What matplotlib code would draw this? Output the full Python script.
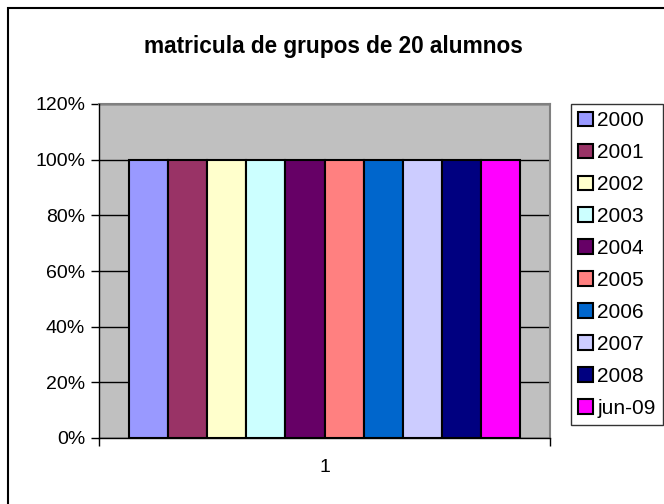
import matplotlib
matplotlib.use("Agg")
from matplotlib import pyplot as plt
from matplotlib.patches import Rectangle
from matplotlib.ticker import FuncFormatter

plt.rcParams['font.family'] = ['Liberation Sans', 'DejaVu Sans']

# datos
series = ['2000', '2001', '2002', '2003', '2004', '2005', '2006', '2007', '2008', 'jun-09']
values = [1.0, 1.0, 1.0, 1.0, 1.0, 1.0, 1.0, 1.0, 1.0, 1.0]
colors = ['#9999FF', '#993366', '#FFFFCC', '#CCFFFF', '#660066',
          '#FF8080', '#0066CC', '#CCCCFF', '#000080', '#FF00FF']
category = '1'
yticks = [0, 0.2, 0.4, 0.6, 0.8, 1.0, 1.2]

W, H = 664, 504
fig = plt.figure(figsize=(W / 100, H / 100), dpi=100)
ax = fig.add_axes([99 / W, 1 - 438 / H, (550 - 99) / W, (438 - 104) / H])
ax.set_facecolor('#C0C0C0')

bars = []
for i in range(len(series)):
    b = ax.bar(i, values[i], width=1.0, color=colors[i], edgecolor='black',
               linewidth=1.5, label=series[i], zorder=3)
    bars.append(b)

pad = 30 / 39.1
ax.set_xlim(-0.5 - pad, len(series) - 0.5 + pad)
ax.set_ylim(0, 1.2)
ax.set_yticks(yticks)
ax.yaxis.set_major_formatter(FuncFormatter(lambda v, p: '%d%%' % round(v * 100)))
ax.yaxis.grid(True, color='black', linewidth=1, zorder=1)
ax.tick_params(axis='y', direction='out', length=6, width=1, labelsize=14, pad=4)

# categoria
ax.set_xticks([-0.5 - pad, len(series) - 0.5 + pad])
ax.set_xticklabels(['', ''])
ax.tick_params(axis='x', direction='out', length=6, width=1)
ax.text((len(series) - 1) / 2, -0.105, category, ha='center', va='center',
        fontsize=14, transform=ax.transData)

for s in ['left', 'bottom']:
    ax.spines[s].set_color('black')
    ax.spines[s].set_linewidth(1)
for s in ['top', 'right']:
    ax.spines[s].set_color('#808080')
    ax.spines[s].set_linewidth(1.5)
ax.spines['left'].set_zorder(4)
ax.spines['bottom'].set_zorder(4)

fig.text(333 / W, 1 - 47 / H, 'matricula de grupos de 20 alumnos',
         ha='center', va='center', fontsize=16.3, fontweight='bold')

leg = fig.legend(loc='upper left', bbox_to_anchor=(571 / W, 1 - 104 / H),
                 borderaxespad=0, fontsize=15, frameon=True, fancybox=False,
                 handlelength=0.7, handleheight=0.7, handletextpad=0.2,
                 labelspacing=0.62, borderpad=0.35)
leg.get_frame().set_edgecolor('black')
leg.get_frame().set_linewidth(1)

# borde exterior
fig.patches.append(Rectangle((8 / W, -0.1), 1.2, 1.1 - 8 / H, transform=fig.transFigure,
                             fill=False, edgecolor='black', linewidth=1.5))

fig.savefig('out.png', dpi=100)
